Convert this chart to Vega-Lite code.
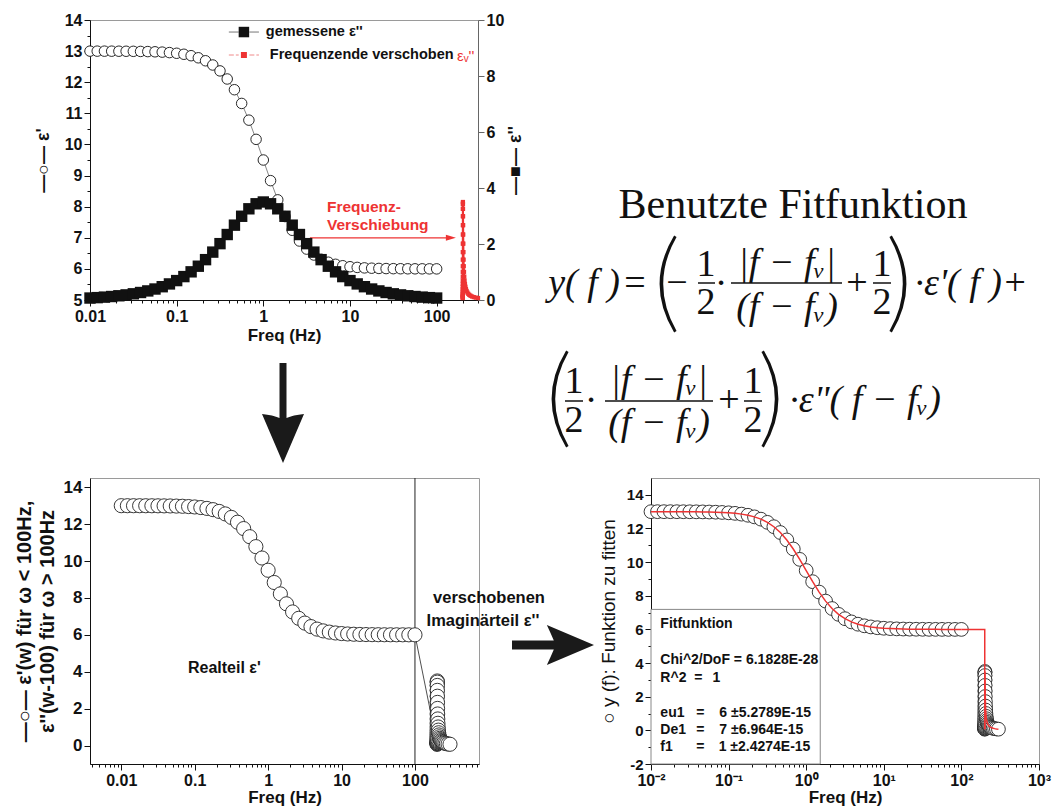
{
  "$schema": "https://vega.github.io/schema/vega-lite/v6.json",
  "background": "white",
  "padding": {"left": 13, "top": 11, "right": 0, "bottom": 0},
  "spacing": 0,
  "bounds": "flush",
  "align": "none",
  "columns": 3,
  "resolve": {"scale": {"color": "independent"}},
  "config": {
    "view": {"stroke": "#9a9a9a", "strokeWidth": 1},
    "axis": {"grid": false, "labelFont": "Liberation Sans", "labelFontWeight": "bold", "labelColor": "#111", "titleFont": "Liberation Sans", "titleFontWeight": "bold", "titleColor": "#111", "domainColor": "#111", "domainWidth": 1, "tickColor": "#111", "tickWidth": 1, "labelFlush": false, "labelOverlap": false, "labelSeparation": -1000, "labelPadding": 2}
  },
  "datasets": {
    "eps1": [
      {"f":0.01,"v":12.9993},{"f":0.012115,"v":12.999},{"f":0.014678,"v":12.9985},{"f":0.017783,"v":12.9978},{"f":0.021544,"v":12.9968},{"f":0.026102,"v":12.9952},{"f":0.031623,"v":12.993},{"f":0.038312,"v":12.9897},{"f":0.046416,"v":12.985},{"f":0.056234,"v":12.9779},{"f":0.068129,"v":12.9677},{"f":0.08254,"v":12.9526},{"f":0.1,"v":12.9307},{"f":0.12115,"v":12.8987},{"f":0.14678,"v":12.8524},{"f":0.17783,"v":12.7854},{"f":0.21544,"v":12.6895},{"f":0.26102,"v":12.5535},{"f":0.31623,"v":12.3636},{"f":0.38312,"v":12.1041},{"f":0.46416,"v":11.7592},{"f":0.56234,"v":11.3182},{"f":0.68129,"v":10.7809},{"f":0.8254,"v":10.1635},{"f":1,"v":9.5},{"f":1.2115,"v":8.8365},{"f":1.4678,"v":8.2191},{"f":1.7783,"v":7.6818},{"f":2.1544,"v":7.2408},{"f":2.6102,"v":6.8959},{"f":3.1623,"v":6.6364},{"f":3.8312,"v":6.4465},{"f":4.6416,"v":6.3105},{"f":5.6234,"v":6.2146},{"f":6.8129,"v":6.1476},{"f":8.254,"v":6.1013},{"f":10,"v":6.0693},{"f":12.115,"v":6.0474},{"f":14.678,"v":6.0323},{"f":17.783,"v":6.0221},{"f":21.544,"v":6.015},{"f":26.102,"v":6.0103},{"f":31.623,"v":6.007},{"f":38.312,"v":6.0048},{"f":46.416,"v":6.0032},{"f":56.234,"v":6.0022},{"f":68.129,"v":6.0015},{"f":82.54,"v":6.001},{"f":100,"v":6.0007}
    ],
    "eps2": [
      {"f":0.01,"v":0.07},{"f":0.012115,"v":0.0848},{"f":0.014678,"v":0.1027},{"f":0.017783,"v":0.1244},{"f":0.021544,"v":0.1507},{"f":0.026102,"v":0.1826},{"f":0.031623,"v":0.2211},{"f":0.038312,"v":0.2678},{"f":0.046416,"v":0.3242},{"f":0.056234,"v":0.3924},{"f":0.068129,"v":0.4747},{"f":0.08254,"v":0.5739},{"f":0.1,"v":0.6931},{"f":0.12115,"v":0.8358},{"f":0.14678,"v":1.0058},{"f":0.17783,"v":1.2067},{"f":0.21544,"v":1.4412},{"f":0.26102,"v":1.7106},{"f":0.31623,"v":2.0124},{"f":0.38312,"v":2.3386},{"f":0.46416,"v":2.6732},{"f":0.56234,"v":2.9907},{"f":0.68129,"v":3.2572},{"f":0.8254,"v":3.4365},{"f":1,"v":3.5},{"f":1.2115,"v":3.4365},{"f":1.4678,"v":3.2572},{"f":1.7783,"v":2.9907},{"f":2.1544,"v":2.6732},{"f":2.6102,"v":2.3386},{"f":3.1623,"v":2.0124},{"f":3.8312,"v":1.7106},{"f":4.6416,"v":1.4412},{"f":5.6234,"v":1.2067},{"f":6.8129,"v":1.0058},{"f":8.254,"v":0.8358},{"f":10,"v":0.6931},{"f":12.115,"v":0.5739},{"f":14.678,"v":0.4747},{"f":17.783,"v":0.3924},{"f":21.544,"v":0.3242},{"f":26.102,"v":0.2678},{"f":31.623,"v":0.2211},{"f":38.312,"v":0.1826},{"f":46.416,"v":0.1507},{"f":56.234,"v":0.1244},{"f":68.129,"v":0.1027},{"f":82.54,"v":0.0848},{"f":100,"v":0.07}
    ],
    "shift": [
      {"f":200.01,"v":0.07},{"f":200.0121,"v":0.0848},{"f":200.0147,"v":0.1027},{"f":200.0178,"v":0.1244},{"f":200.0215,"v":0.1507},{"f":200.0261,"v":0.1826},{"f":200.0316,"v":0.2211},{"f":200.0383,"v":0.2678},{"f":200.0464,"v":0.3242},{"f":200.0562,"v":0.3924},{"f":200.0681,"v":0.4747},{"f":200.0825,"v":0.5739},{"f":200.1,"v":0.6931},{"f":200.1212,"v":0.8358},{"f":200.1468,"v":1.0058},{"f":200.1778,"v":1.2067},{"f":200.2154,"v":1.4412},{"f":200.261,"v":1.7106},{"f":200.3162,"v":2.0124},{"f":200.3831,"v":2.3386},{"f":200.4642,"v":2.6732},{"f":200.5623,"v":2.9907},{"f":200.6813,"v":3.2572},{"f":200.8254,"v":3.4365},{"f":201,"v":3.5},{"f":201.2115,"v":3.4365},{"f":201.4678,"v":3.2572},{"f":201.7783,"v":2.9907},{"f":202.1544,"v":2.6732},{"f":202.6102,"v":2.3386},{"f":203.1623,"v":2.0124},{"f":203.8312,"v":1.7106},{"f":204.6416,"v":1.4412},{"f":205.6234,"v":1.2067},{"f":206.8129,"v":1.0058},{"f":208.254,"v":0.8358},{"f":210,"v":0.6931},{"f":212.115,"v":0.5739},{"f":214.678,"v":0.4747},{"f":217.783,"v":0.3924},{"f":221.544,"v":0.3242},{"f":226.102,"v":0.2678},{"f":231.623,"v":0.2211},{"f":238.312,"v":0.1826},{"f":246.416,"v":0.1507},{"f":256.234,"v":0.1244},{"f":268.129,"v":0.1027},{"f":282.54,"v":0.0848},{"f":300,"v":0.07}
    ]
  },
  "concat": [
    {
      "width": 388,
      "height": 280,
      "resolve": {"scale": {"y": "independent"}},
      "layer": [
        {
          "resolve": {"scale": {"y": "shared"}, "axis": {"y": "independent"}},
          "layer": [
            {
              "data": {"name": "eps1"},
              "mark": {"type": "line", "color": "#666", "strokeWidth": 0.8},
              "encoding": {
                "x": {"field": "f", "type": "quantitative", "title": "Freq (Hz)", "scale": {"type": "log", "domain": [0.01, 300], "nice": false},
                  "axis": {"values": [0.01,0.02,0.03,0.04,0.05,0.06,0.07,0.08,0.09,0.1,0.2,0.3,0.4,0.5,0.6,0.7,0.8,0.9,1,2,3,4,5,6,7,8,9,10,20,30,40,50,60,70,80,90,100,200,300],
                    "labelExpr": "abs(log(datum.value)/LN10-round(log(datum.value)/LN10))<0.001 ? format(datum.value, '~g') : ''",
                    "tickSize": {"condition": {"test": "abs(log(datum.value)/LN10-round(log(datum.value)/LN10))<0.001", "value": 6}, "value": 3},
                    "labelOverlap": false, "labelFontSize": 16, "titleFontSize": 17, "titlePadding": 3}},
                "y": {"field": "v", "type": "quantitative", "title": "—○— ε'", "scale": {"domain": [5, 14], "nice": false, "zero": false},
                  "axis": {"orient": "left", "values": [5,6,7,8,9,10,11,12,13,14], "tickSize": 6,
                    "labelOverlap": false, "labelFontSize": 16, "titleFontSize": 18, "titlePadding": 12}}
              }
            },
            {
              "data": {"name": "eps1"},
              "mark": {"type": "point", "shape": "circle", "filled": true, "fill": "white", "stroke": "#111", "strokeWidth": 0.9, "size": 110, "opacity": 1},
              "encoding": {"x": {"field": "f", "type": "quantitative"},
                "y": {"field": "v", "type": "quantitative", "axis": {"orient": "left", "values": [5.5,6.5,7.5,8.5,9.5,10.5,11.5,12.5,13.5], "labels": false, "domain": false, "tickSize": 3, "title": null}}}
            },
            {
              "data": {"values": [{"f": 3.45, "f2": 146, "v": 7.0}]},
              "mark": {"type": "rule", "color": "#e33", "strokeWidth": 1.3},
              "encoding": {"x": {"field": "f", "type": "quantitative"}, "x2": {"field": "f2"}, "y": {"field": "v", "type": "quantitative", "axis": null}}
            },
            {
              "data": {"values": [{"f": 146, "v": 7.0}]},
              "mark": {"type": "point", "shape": "M1,0L-1,-0.6L-1,0.6Z", "filled": true, "color": "#e33", "size": 100, "opacity": 1},
              "encoding": {"x": {"field": "f", "type": "quantitative"}, "y": {"field": "v", "type": "quantitative", "axis": null}}
            },
            {
              "data": {"values": [{"f": 5.42, "v": 7.99, "t": "Frequenz-"}, {"f": 5.42, "v": 7.41, "t": "Verschiebung"}]},
              "mark": {"type": "text", "align": "left", "baseline": "middle", "font": "Liberation Sans", "fontWeight": "bold", "fontSize": 15.5, "color": "#e33"},
              "encoding": {"x": {"field": "f", "type": "quantitative"}, "y": {"field": "v", "type": "quantitative", "axis": null}, "text": {"field": "t"}}
            }
          ]
        },
        {
          "layer": [
            {
              "data": {"name": "eps2"},
              "mark": {"type": "line", "color": "#444", "strokeWidth": 0.8},
              "encoding": {
                "x": {"field": "f", "type": "quantitative"},
                "y": {"field": "v", "type": "quantitative", "title": "—■— ε''", "scale": {"domain": [0, 10], "nice": false},
                  "axis": {"orient": "right", "values": [0,1,2,3,4,5,6,7,8,9,10],
                    "labelExpr": "datum.value % 2 == 0 ? datum.label : ''",
                    "tickSize": {"condition": {"test": "datum.value % 2 == 0", "value": 6}, "value": 3},
                    "labelOverlap": false, "labelFontSize": 16, "titleFontSize": 18, "titleAngle": -90, "titleBaseline": "top", "titlePadding": 3,
                    "domainColor": "#666", "tickColor": "#666"}}
              }
            },
            {
              "data": {"name": "eps2"},
              "mark": {"type": "point", "shape": "square", "filled": true, "color": "#111", "size": 130, "opacity": 1},
              "encoding": {"x": {"field": "f", "type": "quantitative"}, "y": {"field": "v", "type": "quantitative"}}
            },
            {
              "data": {"name": "shift"},
              "mark": {"type": "line", "color": "#e33", "strokeWidth": 2},
              "encoding": {"x": {"field": "f", "type": "quantitative"}, "y": {"field": "v", "type": "quantitative"}}
            },
            {
              "data": {"name": "shift"},
              "mark": {"type": "point", "shape": "square", "filled": true, "color": "#e33", "size": 18, "opacity": 1},
              "encoding": {"x": {"field": "f", "type": "quantitative"}, "y": {"field": "v", "type": "quantitative"}}
            },
            {
              "data": {"values": [{"f": 0.40, "f2": 0.52, "v": 9.57}, {"f": 0.69, "f2": 0.89, "v": 9.57}]},
              "mark": {"type": "rule", "color": "#777", "strokeWidth": 1},
              "encoding": {"x": {"field": "f", "type": "quantitative"}, "x2": {"field": "f2"}, "y": {"field": "v", "type": "quantitative"}}
            },
            {
              "data": {"values": [{"f": 0.40, "f2": 0.52, "v": 8.75}, {"f": 0.69, "f2": 0.89, "v": 8.75}]},
              "mark": {"type": "rule", "color": "#f08a8a", "strokeWidth": 1, "strokeDash": [5, 2]},
              "encoding": {"x": {"field": "f", "type": "quantitative"}, "x2": {"field": "f2"}, "y": {"field": "v", "type": "quantitative"}}
            },
            {
              "data": {"values": [{"f": 0.597, "v": 9.57}]},
              "mark": {"type": "point", "shape": "square", "filled": true, "color": "#111", "size": 110, "opacity": 1},
              "encoding": {"x": {"field": "f", "type": "quantitative"}, "y": {"field": "v", "type": "quantitative"}}
            },
            {
              "data": {"values": [{"f": 0.597, "v": 8.75}]},
              "mark": {"type": "point", "shape": "square", "filled": true, "color": "#e33", "size": 36, "opacity": 1},
              "encoding": {"x": {"field": "f", "type": "quantitative"}, "y": {"field": "v", "type": "quantitative"}}
            },
            {
              "data": {"values": [{"f": 1.07, "v": 9.57, "t": "gemessene ε''"}, {"f": 1.19, "v": 8.75, "t": "Frequenzende verschoben"}]},
              "mark": {"type": "text", "align": "left", "baseline": "middle", "font": "Liberation Sans", "fontWeight": "bold", "fontSize": 14.5, "color": "#111"},
              "encoding": {"x": {"field": "f", "type": "quantitative"}, "y": {"field": "v", "type": "quantitative"}, "text": {"field": "t"}}
            },
            {
              "data": {"values": [{"f": 172, "v": 8.72, "t": "εᵥ''"}]},
              "mark": {"type": "text", "align": "left", "baseline": "middle", "font": "Liberation Sans", "fontSize": 15, "color": "#e33"},
              "encoding": {"x": {"field": "f", "type": "quantitative"}, "y": {"field": "v", "type": "quantitative"}, "text": {"field": "t"}}
            }
          ]
        }
      ]
    },
    {
      "width": 1,
      "height": 280,
      "view": {"stroke": null},
      "data": {"values": [{"x": 0}]},
      "mark": {"type": "point", "opacity": 0},
      "encoding": {"x": {"field": "x", "type": "quantitative", "axis": null}}
    },
    {
      "width": 388,
      "height": 280,
      "view": {"stroke": null},
      "layer": [
        {
          "data": {"values": [{"x": 142, "y": 185, "t": "Benutzte Fitfunktion"}]},
          "mark": {"type": "text", "align": "center", "baseline": "middle", "font": "Liberation Serif", "fontSize": 42, "color": "#111"},
          "encoding": {"x": {"field": "x", "type": "quantitative", "scale": {"domain": [0, 388], "nice": false, "zero": false}, "axis": null},
            "y": {"field": "y", "type": "quantitative", "scale": {"domain": [0, 280], "reverse": true, "nice": false, "zero": false}, "axis": null},
            "text": {"field": "t"}}
        },
        {
          "data": {"values": [
            {"x": -16, "y": 264, "t": "="}, {"x": 26, "y": 264, "t": "−"},
            {"x": 55, "y": 245, "t": "1"}, {"x": 55, "y": 283, "t": "2"},
            {"x": 70, "y": 264, "t": "·"}, {"x": 206, "y": 264, "t": "+"},
            {"x": 231, "y": 245, "t": "1"}, {"x": 231, "y": 283, "t": "2"},
            {"x": -77, "y": 362, "t": "1"}, {"x": -77, "y": 401, "t": "2"},
            {"x": -60, "y": 381, "t": "·"}, {"x": 78, "y": 381, "t": "+"},
            {"x": 102, "y": 362, "t": "1"}, {"x": 102, "y": 401, "t": "2"}
          ]},
          "mark": {"type": "text", "align": "center", "baseline": "middle", "font": "Liberation Serif", "fontSize": 38, "color": "#111"},
          "encoding": {"x": {"field": "x", "type": "quantitative"}, "y": {"field": "y", "type": "quantitative"}, "text": {"field": "t"}}
        },
        {
          "data": {"values": [
            {"x": -67, "y": 264, "t": "y( f )"},
            {"x": 136, "y": 244, "t": "|f − fᵥ|"}, {"x": 136, "y": 288, "t": "(f − fᵥ)"},
            {"x": 320, "y": 264, "t": "·ε'( f )+"},
            {"x": 8, "y": 361, "t": "|f − fᵥ|"}, {"x": 8, "y": 404, "t": "(f − fᵥ)"},
            {"x": 214, "y": 381, "t": "·ε\"( f − fᵥ)"}
          ]},
          "mark": {"type": "text", "align": "center", "baseline": "middle", "font": "Liberation Serif", "fontStyle": "italic", "fontSize": 38, "color": "#111"},
          "encoding": {"x": {"field": "x", "type": "quantitative"}, "y": {"field": "y", "type": "quantitative"}, "text": {"field": "t"}}
        },
        {
          "data": {"values": [
            {"x": 47, "x2": 64, "y": 263}, {"x": 80, "x2": 191, "y": 263}, {"x": 222, "x2": 240, "y": 263},
            {"x": -86, "x2": -68, "y": 381}, {"x": -46, "x2": 62, "y": 381}, {"x": 93, "x2": 111, "y": 381}
          ]},
          "mark": {"type": "rule", "color": "#111", "strokeWidth": 1.5},
          "encoding": {"x": {"field": "x", "type": "quantitative"}, "x2": {"field": "x2"}, "y": {"field": "y", "type": "quantitative"}}
        },
        {
          "data": {"values": [{"x": 11, "y": 264}, {"x": -97, "y": 379}]},
          "mark": {"type": "point", "shape": "M0.25,-1Q-0.35,0 0.25,1L0.3,0.97Q-0.25,0 0.3,-0.97Z", "filled": true, "color": "#111", "size": 9409, "opacity": 1},
          "encoding": {"x": {"field": "x", "type": "quantitative"}, "y": {"field": "y", "type": "quantitative"}}
        },
        {
          "data": {"values": [{"x": 253, "y": 264}, {"x": 125, "y": 379}]},
          "mark": {"type": "point", "shape": "M-0.25,-1Q0.35,0 -0.25,1L-0.3,0.97Q0.25,0 -0.3,-0.97Z", "filled": true, "color": "#111", "size": 9409, "opacity": 1},
          "encoding": {"x": {"field": "x", "type": "quantitative"}, "y": {"field": "y", "type": "quantitative"}}
        }
      ]
    },
    {
      "width": 389,
      "height": 178,
      "view": {"stroke": null},
      "data": {"values": [{"x": 193, "y": 113}]},
      "mark": {"type": "point", "shape": "M-0.07,-1L0.07,-1L0.07,0.1Q0.2,0.04 0.42,0.02L0,1L-0.42,0.02Q-0.2,0.04 -0.07,0.1Z", "filled": true, "color": "#1a1a1a", "size": 10000, "opacity": 1},
      "encoding": {
        "x": {"field": "x", "type": "quantitative", "scale": {"domain": [0, 389], "nice": false, "zero": false}, "axis": null},
        "y": {"field": "y", "type": "quantitative", "scale": {"domain": [0, 178], "reverse": true, "nice": false, "zero": false}, "axis": null}
      }
    },
    {
      "width": 1,
      "height": 178,
      "view": {"stroke": null},
      "data": {"values": [{"x": 0}]},
      "mark": {"type": "point", "opacity": 0},
      "encoding": {"x": {"field": "x", "type": "quantitative", "axis": null}}
    },
    {
      "width": 1,
      "height": 178,
      "view": {"stroke": null},
      "data": {"values": [{"x": 0}]},
      "mark": {"type": "point", "opacity": 0},
      "encoding": {"x": {"field": "x", "type": "quantitative", "axis": null}}
    },
    {
      "width": 389,
      "height": 286,
      "layer": [
        {
          "data": {"values": [{"f": 100}]},
          "mark": {"type": "rule", "color": "#222", "strokeWidth": 1},
          "encoding": {
            "x": {"field": "f", "type": "quantitative", "title": "Freq (Hz)", "scale": {"type": "log", "domain": [0.00375, 745], "nice": false},
              "axis": {"values": [0.004,0.005,0.006,0.007,0.008,0.009,0.01,0.02,0.03,0.04,0.05,0.06,0.07,0.08,0.09,0.1,0.2,0.3,0.4,0.5,0.6,0.7,0.8,0.9,1,2,3,4,5,6,7,8,9,10,20,30,40,50,60,70,80,90,100,200,300,400,500,600,700],
                "labelExpr": "abs(log(datum.value)/LN10-round(log(datum.value)/LN10))<0.001 ? format(datum.value, '~g') : ''",
                "tickSize": {"condition": {"test": "abs(log(datum.value)/LN10-round(log(datum.value)/LN10))<0.001", "value": 6}, "value": 3},
                "labelOverlap": false, "labelFontSize": 16, "titleFontSize": 17, "titlePadding": 1}}
          }
        },
        {
          "data": {"name": "eps1"},
          "mark": {"type": "line", "color": "#222", "strokeWidth": 0.8},
          "encoding": {
            "x": {"field": "f", "type": "quantitative"},
            "y": {"field": "v", "type": "quantitative", "title": ["—○— ε'(w) für ω < 100Hz,", "ε''(w-100) für ω > 100Hz"], "scale": {"domain": [-1, 14.5], "nice": false, "zero": false},
              "axis": {"values": [0,1,2,3,4,5,6,7,8,9,10,11,12,13,14],
                "labelExpr": "datum.value % 2 == 0 ? datum.label : ''",
                "tickSize": {"condition": {"test": "datum.value % 2 == 0", "value": 6}, "value": 3},
                "labelOverlap": false, "labelFontSize": 17, "titleFontSize": 20, "titleLineHeight": 23, "titlePadding": 6}}
          }
        },
        {
          "data": {"name": "shift"},
          "mark": {"type": "line", "color": "#222", "strokeWidth": 0.8},
          "encoding": {"x": {"field": "f", "type": "quantitative"}, "y": {"field": "v", "type": "quantitative"}}
        },
        {
          "data": {"values": [{"f": 100, "v": 6.0007}, {"f": 200.01, "v": 0.07}]},
          "mark": {"type": "line", "color": "#222", "strokeWidth": 0.8},
          "encoding": {"x": {"field": "f", "type": "quantitative"}, "y": {"field": "v", "type": "quantitative"}}
        },
        {
          "data": {"name": "eps1"},
          "mark": {"type": "point", "shape": "circle", "filled": true, "fill": "white", "stroke": "#222", "strokeWidth": 0.9, "size": 200, "opacity": 1},
          "encoding": {"x": {"field": "f", "type": "quantitative"}, "y": {"field": "v", "type": "quantitative"}}
        },
        {
          "data": {"name": "shift"},
          "mark": {"type": "point", "shape": "circle", "filled": true, "fill": "white", "stroke": "#222", "strokeWidth": 0.9, "size": 200, "opacity": 1},
          "encoding": {"x": {"field": "f", "type": "quantitative"}, "y": {"field": "v", "type": "quantitative"}}
        },
        {
          "data": {"values": [{"f": 0.081, "v": 4.2, "t": "Realteil ε'"}]},
          "mark": {"type": "text", "align": "left", "baseline": "middle", "font": "Liberation Sans", "fontWeight": "bold", "fontSize": 16, "color": "#111"},
          "encoding": {"x": {"field": "f", "type": "quantitative"}, "y": {"field": "v", "type": "quantitative"}, "text": {"field": "t"}}
        }
      ]
    },
    {
      "width": 172,
      "height": 286,
      "view": {"stroke": null},
      "layer": [
        {
          "data": {"values": [{"x": 10, "y": 120, "t": "verschobenen"}, {"x": 4, "y": 143, "t": "Imaginärteil ε''"}]},
          "mark": {"type": "text", "align": "center", "baseline": "middle", "font": "Liberation Sans", "fontWeight": "bold", "fontSize": 16.5, "color": "#111"},
          "encoding": {
            "x": {"field": "x", "type": "quantitative", "scale": {"domain": [0, 172], "nice": false, "zero": false}, "axis": null},
            "y": {"field": "y", "type": "quantitative", "scale": {"domain": [0, 286], "reverse": true, "nice": false, "zero": false}, "axis": null},
            "text": {"field": "t"}}
        },
        {
          "data": {"values": [{"x": 74, "y": 167}]},
          "mark": {"type": "point", "shape": "M-1,-0.11L0.02,-0.11Q-0.06,-0.3 -0.15,-0.49L1,0L-0.15,0.49Q-0.06,0.3 0.02,0.11L-1,0.11Z", "filled": true, "color": "#1a1a1a", "size": 6724, "opacity": 1},
          "encoding": {"x": {"field": "x", "type": "quantitative"}, "y": {"field": "y", "type": "quantitative"}}
        }
      ]
    },
    {
      "width": 388,
      "height": 286,
      "resolve": {"axis": {"y": "independent"}},
      "layer": [
        {
          "data": {"values": [{"f": 0.01, "f2": 1.517, "v": 7.19, "v2": -2}]},
          "mark": {"type": "rect", "fill": "white", "stroke": "#888", "strokeWidth": 1},
          "encoding": {
            "x": {"field": "f", "type": "quantitative", "title": "Freq (Hz)", "scale": {"type": "log", "domain": [0.01, 1000], "nice": false},
              "axis": {"values": [0.01,0.02,0.03,0.04,0.05,0.06,0.07,0.08,0.09,0.1,0.2,0.3,0.4,0.5,0.6,0.7,0.8,0.9,1,2,3,4,5,6,7,8,9,10,20,30,40,50,60,70,80,90,100,200,300,400,500,600,700,800,900,1000],
                "labelExpr": "abs(log(datum.value)/LN10-round(log(datum.value)/LN10))<0.001 ? (datum.value<0.05 ? '10⁻²' : datum.value<0.5 ? '10⁻¹' : datum.value<5 ? '10⁰' : datum.value<50 ? '10¹' : datum.value<500 ? '10²' : '10³') : ''",
                "tickSize": {"condition": {"test": "abs(log(datum.value)/LN10-round(log(datum.value)/LN10))<0.001", "value": 6}, "value": 3},
                "labelOverlap": false, "labelFontSize": 16, "titleFontSize": 17, "titlePadding": 1}},
            "x2": {"field": "f2"},
            "y": {"field": "v", "type": "quantitative", "title": "○   y (f): Funktion zu fitten", "scale": {"domain": [-2, 15], "nice": false, "zero": false},
              "axis": {"orient": "left", "values": [-2,0,2,4,6,8,10,12,14], "tickSize": 6,
                "labelExpr": "datum.value < 0 ? '-' + abs(datum.value) : '' + datum.value",
                "labelOverlap": false, "labelFontSize": 15, "titleFontSize": 19, "titleFontWeight": "normal", "titlePadding": 8}},
            "y2": {"field": "v2"}
          }
        },
        {
          "data": {"name": "eps1"},
          "mark": {"type": "point", "shape": "circle", "filled": true, "fill": "white", "stroke": "#222", "strokeWidth": 0.9, "size": 190, "opacity": 1},
          "encoding": {"x": {"field": "f", "type": "quantitative"},
            "y": {"field": "v", "type": "quantitative", "axis": {"orient": "left", "values": [-1,1,3,5,7,9,11,13], "labels": false, "domain": false, "tickSize": 3, "title": null}}}
        },
        {
          "data": {"name": "shift"},
          "mark": {"type": "point", "shape": "circle", "filled": true, "fill": "white", "stroke": "#222", "strokeWidth": 0.9, "size": 190, "opacity": 1},
          "encoding": {"x": {"field": "f", "type": "quantitative"}, "y": {"field": "v", "type": "quantitative", "axis": null}}
        },
        {
          "data": {"name": "eps1"},
          "mark": {"type": "line", "color": "#e33", "strokeWidth": 1.5},
          "encoding": {"x": {"field": "f", "type": "quantitative"}, "y": {"field": "v", "type": "quantitative", "axis": null}}
        },
        {
          "data": {"values": [{"f": 100, "v": 6.0007}, {"f": 199.9, "v": 6.0}, {"f": 200.01, "v": 0.07}]},
          "mark": {"type": "line", "color": "#e33", "strokeWidth": 1.5},
          "encoding": {"x": {"field": "f", "type": "quantitative"}, "y": {"field": "v", "type": "quantitative", "axis": null}}
        },
        {
          "data": {"name": "shift"},
          "mark": {"type": "line", "color": "#e33", "strokeWidth": 1.5},
          "encoding": {"x": {"field": "f", "type": "quantitative"}, "y": {"field": "v", "type": "quantitative", "axis": null}}
        },
        {
          "data": {"values": [
            {"f": 0.0132, "v": 6.3, "t": "Fitfunktion"},
            {"f": 0.0132, "v": 4.17, "t": "Chi^2/DoF = 6.1828E-28"},
            {"f": 0.0132, "v": 3.12, "t": "R^2"}, {"f": 0.0362, "v": 3.12, "t": "="}, {"f": 0.0618, "v": 3.12, "t": "1"},
            {"f": 0.0132, "v": 1.02, "t": "eu1"}, {"f": 0.0384, "v": 1.02, "t": "="}, {"f": 0.076, "v": 1.02, "t": "6 ±5.2789E-15"},
            {"f": 0.0132, "v": 0.05, "t": "De1"}, {"f": 0.0384, "v": 0.05, "t": "="}, {"f": 0.076, "v": 0.05, "t": "7 ±6.964E-15"},
            {"f": 0.0132, "v": -1.01, "t": "f1"}, {"f": 0.0384, "v": -1.01, "t": "="}, {"f": 0.0744, "v": -1.01, "t": "1  ±2.4274E-15"}
          ]},
          "mark": {"type": "text", "align": "left", "baseline": "middle", "font": "Liberation Sans", "fontWeight": "bold", "fontSize": 14, "color": "#111"},
          "encoding": {"x": {"field": "f", "type": "quantitative"}, "y": {"field": "v", "type": "quantitative", "axis": null}, "text": {"field": "t"}}
        }
      ]
    }
  ]
}
